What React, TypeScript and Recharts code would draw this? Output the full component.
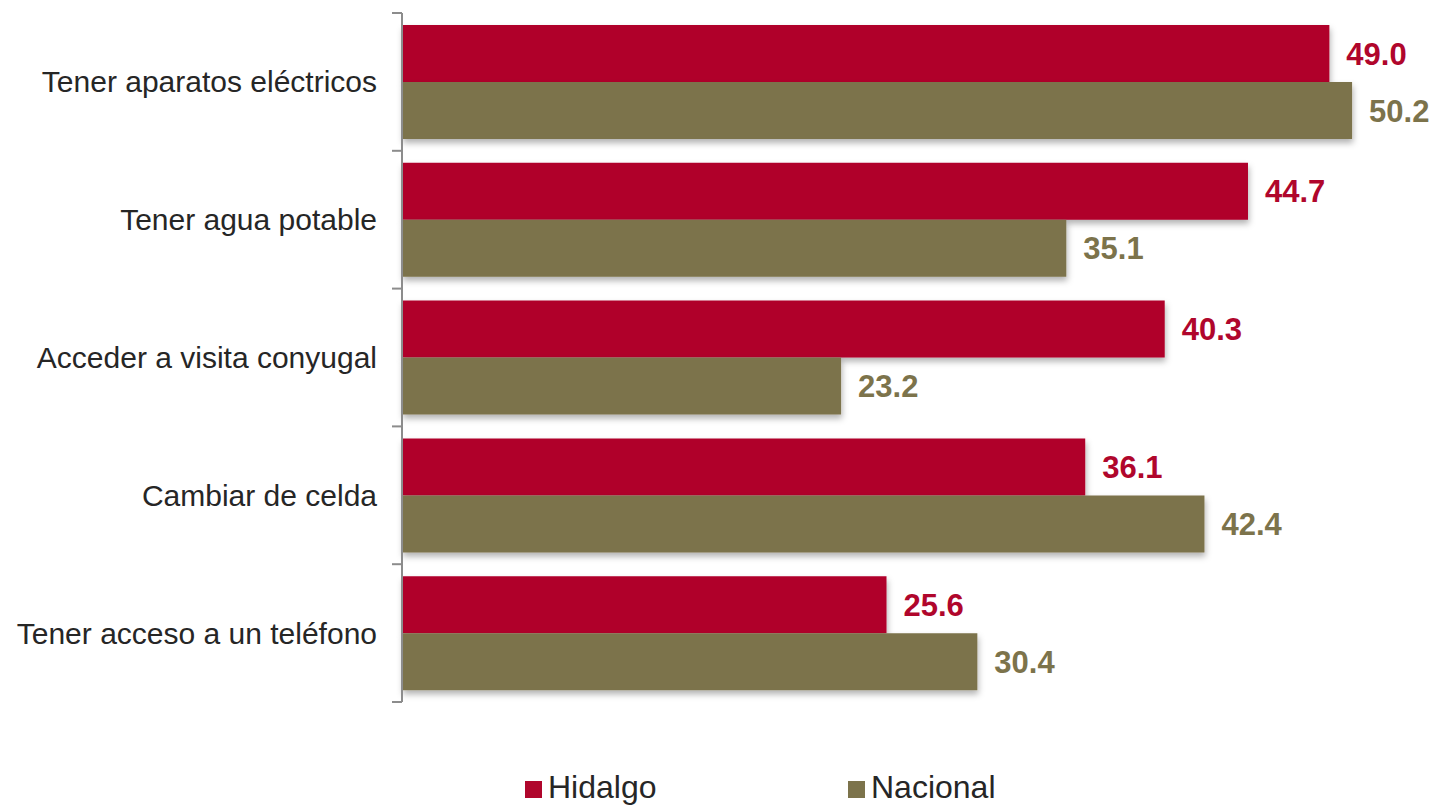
import React from 'react';
import { BarChart, Bar, XAxis, YAxis, LabelList, Rectangle } from 'recharts';

const categories = [
  'Tener aparatos eléctricos',
  'Tener agua potable',
  'Acceder a visita conyugal',
  'Cambiar de celda',
  'Tener acceso a un teléfono',
];
const hidalgo = [49.0, 44.7, 40.3, 36.1, 25.6];
const nacional = [50.2, 35.1, 23.2, 42.4, 30.4];
const seriesNames = ['Hidalgo', 'Nacional'];

const data = categories.map((c, i) => ({ name: c, hidalgo: hidalgo[i], nacional: nacional[i] }));

const W = 1437;
const H = 807;
const MARGIN = { top: 13, right: 13, bottom: 105, left: 0 };
const YW = 402;
const PLOT_H = H - MARGIN.top - MARGIN.bottom;
const BAND = PLOT_H / categories.length;
const RED = '#B0062C';
const OLIVE = '#7C734B';
const FONT = '"Liberation Sans", Arial, sans-serif';

const AxisTick = (props: any) => {
  const { y, payload, index } = props;
  const ax = MARGIN.left + YW;
  const top = y - BAND / 2;
  const bottom = y + BAND / 2;
  return (
    <g>
      <line x1={ax - 10} x2={ax} y1={top} y2={top} stroke="#8c8c8c" strokeWidth={2} />
      {index === categories.length - 1 && (
        <line x1={ax - 10} x2={ax} y1={bottom} y2={bottom} stroke="#8c8c8c" strokeWidth={2} />
      )}
      <text x={ax - 25} y={y} textAnchor="end" dominantBaseline="central" fill="#262626" fontSize={30} fontFamily={FONT}>
        {payload.value}
      </text>
    </g>
  );
};

const ShadowBar = (props: any) => <Rectangle {...props} filter="url(#barShadow)" />;

export default function App() {
  return (
    <div style={{ position: 'absolute', left: 0, top: 0, width: W, height: H, background: '#fff', overflow: 'hidden' }}>
      <BarChart width={W} height={H} data={data} layout="vertical" margin={MARGIN} barGap={0}>
        <defs>
          <filter id="barShadow" x="-5%" y="-20%" width="110%" height="160%">
            <feDropShadow dx="1" dy="4" stdDeviation="3" floodColor="#000" floodOpacity="0.3" />
          </filter>
        </defs>
        <XAxis type="number" domain={[0, 54]} hide />
        <YAxis
          type="category"
          dataKey="name"
          width={YW}
          tick={<AxisTick />}
          tickLine={false}
          axisLine={{ stroke: '#8c8c8c', strokeWidth: 2 }}
          interval={0}
        />
        <Bar dataKey="hidalgo" name={seriesNames[0]} fill={RED} barSize={57} isAnimationActive={false} shape={<ShadowBar />}>
          <LabelList dataKey="hidalgo" position="right" offset={17} fill={RED} fontSize={31} fontWeight="bold" fontFamily={FONT} formatter={(v: any) => Number(v).toFixed(1)} />
        </Bar>
        <Bar dataKey="nacional" name={seriesNames[1]} fill={OLIVE} barSize={57} isAnimationActive={false} shape={<ShadowBar />}>
          <LabelList dataKey="nacional" position="right" offset={17} fill={OLIVE} fontSize={31} fontWeight="bold" fontFamily={FONT} formatter={(v: any) => Number(v).toFixed(1)} />
        </Bar>
      </BarChart>
      <div style={{ position: 'absolute', top: 769, left: 525, display: 'flex', fontFamily: FONT, fontSize: 32, color: '#262626', lineHeight: '36px' }}>
        <div style={{ display: 'flex', alignItems: 'center', width: 323 }}>
          <span style={{ display: 'inline-block', width: 17, height: 17, background: RED, marginRight: 6, marginTop: 4 }} />
          {seriesNames[0]}
        </div>
        <div style={{ display: 'flex', alignItems: 'center' }}>
          <span style={{ display: 'inline-block', width: 17, height: 17, background: OLIVE, marginRight: 6, marginTop: 4 }} />
          {seriesNames[1]}
        </div>
      </div>
    </div>
  );
}
